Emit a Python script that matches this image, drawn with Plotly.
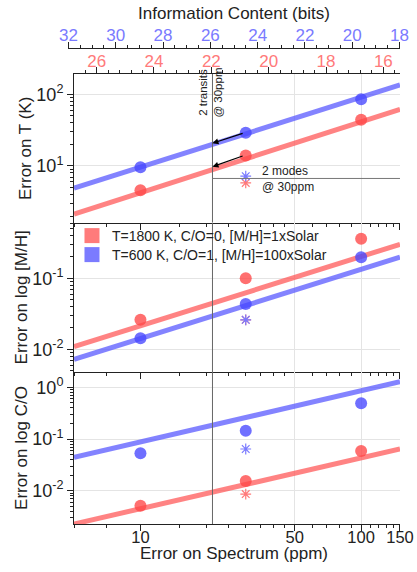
import numpy as np
import plotly.graph_objects as go

# ---------------- data ----------------
ppm = [10, 30, 100]
T_red = [4.6, 14, 44]
T_blue = [9.6, 29, 85]
MH_red = [0.026, 0.10, 0.36]
MH_blue = [0.0143, 0.0435, 0.198]
CO_red = [0.0051, 0.0154, 0.0586]
CO_blue = [0.0528, 0.145, 0.49]

star_ppm = [30]
T_star_red = [5.8]
T_star_blue = [7.2]
MH_star_red = [0.026]
MH_star_blue = [0.026]
CO_star_red = [0.0086]
CO_star_blue = [0.064]

fit_ppm = [5, 150]
T_fit_red = [2.14, 61.8]
T_fit_blue = [4.9, 135]
MH_fit_red = [0.0109, 0.301]
MH_fit_blue = [0.00723, 0.198]
CO_fit_red = [0.00227, 0.064]
CO_fit_blue = [0.0443, 1.28]

transit_ppm = 21.2      # 2 transits @ 30 ppm
modes_T = 6.7           # 2 modes @ 30 ppm level in T panel

legend_red = "T=1800 K, C/O=0, [M/H]=1xSolar"
legend_blue = "T=600 K, C/O=1, [M/H]=100xSolar"

x_major = [10, 50, 100, 150]
x_minor = [5, 7, 15, 20, 25, 30, 35, 40, 45, 60, 70, 80, 90, 110, 120, 130, 140]
x_grid = [50, 100, 150]

# ---------------- styling ----------------
RED = "rgba(255,70,70,0.78)"
BLUE = "rgba(70,70,255,0.78)"
RED_LINE = "rgba(255,90,90,0.75)"
BLUE_LINE = "rgba(90,90,255,0.75)"
RED_TXT = "#ff7a7a"
BLUE_TXT = "#7a7aff"
AX = "#222222"
GRID = "#e4e4e4"
FONT = "Liberation Sans, Arial, Helvetica, sans-serif"

xr = [np.log10(5), np.log10(150)]
yr = {1: [0.209, 2.283], 2: [-2.32, -0.217], 3: [-2.644, 0.296]}
ydom = {1: [0.6343, 0.9474], 2: [0.32, 0.6343], 3: [0.0, 0.32]}

fig = go.Figure()

panels = [
    (1, T_fit_red, T_fit_blue, T_red, T_blue, T_star_red, T_star_blue),
    (2, MH_fit_red, MH_fit_blue, MH_red, MH_blue, MH_star_red, MH_star_blue),
    (3, CO_fit_red, CO_fit_blue, CO_red, CO_blue, CO_star_red, CO_star_blue),
]

for i, fr, fb, pr, pb, sr, sb in panels:
    xa = "x" if i == 1 else f"x{i}"
    ya = "y" if i == 1 else f"y{i}"
    for fy, c in ((fr, RED_LINE), (fb, BLUE_LINE)):
        fig.add_trace(go.Scatter(x=fit_ppm, y=fy, mode="lines", xaxis=xa, yaxis=ya,
                                 line=dict(color=c, width=5), showlegend=False, hoverinfo="skip"))
    for py, c in ((pr, RED), (pb, BLUE)):
        fig.add_trace(go.Scatter(x=ppm, y=py, mode="markers", xaxis=xa, yaxis=ya,
                                 marker=dict(color=c, size=12, line=dict(width=0)),
                                 showlegend=False))
    for sy, c in ((sr, RED_TXT), (sb, BLUE_TXT)):
        fig.add_trace(go.Scatter(x=star_ppm, y=sy, mode="markers", xaxis=xa, yaxis=ya,
                                 marker=dict(symbol="asterisk-open", size=9, color=c,
                                             line=dict(color=c, width=1.2)),
                                 showlegend=False))
    # vertical "2 transits" line, on the overlay axis of this panel
    gx = f"x{5 + i}"
    lo, hi = yr[i]
    fig.add_trace(go.Scatter(x=[transit_ppm, transit_ppm], y=[10 ** lo, 10 ** hi], mode="lines",
                             xaxis=gx, yaxis=ya, line=dict(color="#666666", width=1),
                             showlegend=False, hoverinfo="skip"))

# "2 modes" horizontal line in the T panel
fig.add_trace(go.Scatter(x=[transit_ppm, fit_ppm[1]], y=[modes_T, modes_T], mode="lines",
                         xaxis="x6", yaxis="y", line=dict(color="#777777", width=1),
                         showlegend=False, hoverinfo="skip"))

# legend entries (one legend each, so their spacing matches)
for name, c, lg in ((legend_red, "rgba(255,90,90,0.8)", "legend"),
                    (legend_blue, "rgba(90,90,255,0.8)", "legend2")):
    fig.add_trace(go.Scatter(x=[None], y=[None], mode="markers", name=name, xaxis="x2", yaxis="y2",
                             legend=lg, marker=dict(symbol="square", size=15, color=c)))

# dummy traces so top axes are drawn
fig.add_trace(go.Scatter(x=[None], y=[None], xaxis="x4", yaxis="y", showlegend=False))
fig.add_trace(go.Scatter(x=[None], y=[None], xaxis="x5", yaxis="y5", showlegend=False))


def minor_log(lo, hi):
    vals = []
    for e in range(int(np.floor(lo)) - 1, int(np.ceil(hi)) + 1):
        for m in range(2, 10):
            v = m * 10.0 ** e
            if lo <= np.log10(v) <= hi:
                vals.append(v)
    return vals


def major_log(lo, hi):
    out = []
    for e in range(int(np.floor(lo)), int(np.ceil(hi)) + 1):
        if lo <= e <= hi:
            out.append(e)
    return out


xbase = dict(type="log", range=xr, domain=[0.0181, 1], showline=True, linecolor=AX, linewidth=1,
             ticks="outside", ticklen=6, tickcolor=AX, tickvals=x_major,
             ticktext=[str(v) for v in x_major], showgrid=False, zeroline=False, automargin=False,
             tickfont=dict(size=16.5, color=AX),
             minor=dict(tickmode="array", tickvals=x_minor, ticks="outside", ticklen=3,
                        tickcolor=AX, showgrid=False))

leg_common = dict(xanchor="left", yanchor="middle", bgcolor="rgba(0,0,0,0)",
                  font=dict(size=14, color=AX), itemsizing="trace", tracegroupgap=0,
                  borderwidth=0)
layout = dict(
    width=417, height=572,
    margin=dict(l=68, r=17, t=49, b=48),
    paper_bgcolor="white", plot_bgcolor="rgba(0,0,0,0)",
    font=dict(family=FONT, color=AX, size=14),
    showlegend=True,
    legend=dict(x=0.012, y=0.6063, **leg_common),
    legend2=dict(x=0.012, y=0.5663, **leg_common),
)

ytitles = {1: "Error on T (K)", 2: "Error on log [M/H]", 3: "Error on log C/O"}
for i in (1, 2, 3):
    xk = "xaxis" if i == 1 else f"xaxis{i}"
    yk = "yaxis" if i == 1 else f"yaxis{i}"
    xa = dict(xbase)
    xa["anchor"] = "y" if i == 1 else f"y{i}"
    xa["showticklabels"] = (i == 3)
    if i == 3:
        xa["ticklabelstandoff"] = -8
    layout[xk] = xa
    lo, hi = yr[i]
    maj = major_log(lo, hi)
    layout[yk] = dict(
        type="log", range=yr[i], domain=ydom[i], anchor="x" if i == 1 else f"x{i}",
        showline=True, linecolor=AX, linewidth=1, ticks="outside", ticklen=6, tickcolor=AX,
        tickvals=[10.0 ** e for e in maj],
        ticktext=[f"10<sup>{e}</sup>" for e in maj],
        tickfont=dict(size=18, color=AX),
        showgrid=True, gridcolor=GRID, gridwidth=1, zeroline=False, automargin=False,
        minor=dict(tickmode="array", tickvals=minor_log(lo, hi), ticks="outside", ticklen=3,
                   tickcolor=AX, showgrid=False),
        title=dict(text=ytitles[i], font=dict(size=17), standoff=0),
    )
    # overlay axis carrying only the vertical grid lines (50, 100, 150)
    layout[f"xaxis{5 + i}"] = dict(
        type="log", range=xr, overlaying="x" if i == 1 else f"x{i}",
        anchor="y" if i == 1 else f"y{i}", tickvals=x_grid, showticklabels=False, ticks="",
        showgrid=True, gridcolor=GRID, gridwidth=1, showline=False, zeroline=False,
        automargin=False)

# red information-content axis (top of T panel)
layout["xaxis4"] = dict(
    overlaying="x", side="top", anchor="y", type="linear", range=[26.79, 15.42],
    tick0=16, dtick=2, ticks="outside", ticklen=6, tickcolor=AX, ticklabelstandoff=-7,
    tickfont=dict(size=17, color=RED_TXT), showline=True, linecolor=AX, linewidth=1,
    showgrid=False, zeroline=False, automargin=False,
    minor=dict(tick0=16, dtick=0.4, ticks="outside", ticklen=3, tickcolor=AX, showgrid=False))

# blue information-content axis (very top)
layout["xaxis5"] = dict(
    domain=[0, 1], anchor="y5", side="top", type="linear", range=[32.02, 17.98],
    tick0=18, dtick=2, ticks="outside", ticklen=6, tickcolor=AX, ticklabelstandoff=-6,
    tickfont=dict(size=17, color=BLUE_TXT), showline=True, linecolor=AX, linewidth=1,
    showgrid=False, zeroline=False, automargin=False,
    minor=dict(tick0=18, dtick=0.5, ticks="outside", ticklen=3, tickcolor=AX, showgrid=False),
    title=dict(text="Information Content (bits)", font=dict(size=17), standoff=2))
layout["yaxis5"] = dict(domain=[0.9474, 1], anchor="x5", visible=False, range=[0, 1])

fig.update_layout(**layout)

# x axis title
fig.add_annotation(x=0.5, y=-0.063, xref="paper", yref="paper", text="Error on Spectrum (ppm)",
                   showarrow=False, xanchor="center", yanchor="middle",
                   font=dict(size=17, color=AX))

# annotations: arrows and text
lx = np.log10
arrows = [
    (lx(29.5), lx(T_blue[1]), lx(transit_ppm), 1.317),
    (lx(29.5), lx(T_red[1]), lx(transit_ppm), 0.99),
]
for tx, ty, hx, hy in arrows:
    fig.add_annotation(x=hx, y=hy, ax=tx, ay=ty, xref="x", yref="y", axref="x", ayref="y",
                       showarrow=True, arrowhead=2, arrowsize=1, arrowwidth=1.2,
                       arrowcolor="black", standoff=0, text="")

fig.add_annotation(x=lx(transit_ppm) - 0.008, y=2.02, xref="x", yref="y",
                   text="2 transits<br>@ 30ppm", textangle=-90, showarrow=False,
                   font=dict(size=11.5, color=AX), xanchor="center", yanchor="middle")
fig.add_annotation(x=1.542, y=0.812, xref="x", yref="y", text="2 modes<br>@ 30ppm",
                   showarrow=False, align="left", xanchor="left", yanchor="middle",
                   font=dict(size=12, color=AX))

fig.write_html("out.html", config={"displayModeBar": False},
               post_script="document.body.style.margin='0';document.body.style.overflow='hidden';")
